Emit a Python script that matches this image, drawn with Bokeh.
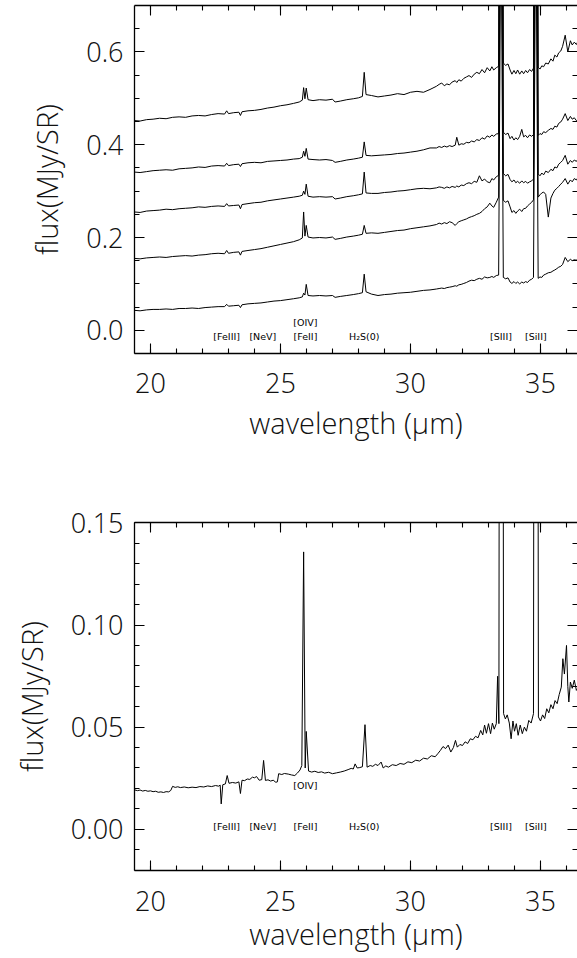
from bokeh.plotting import figure
from bokeh.models import (Range1d, LinearAxis, SingleIntervalTicker, PrintfTickFormatter,
                          CustomJSTickFormatter)
from bokeh.layouts import column
from bokeh.embed import file_html
from bokeh.resources import INLINE
from bokeh.core.properties import value

# ---------------- data ----------------
# common wavelength grid (micron) of the five spectra in the upper panel
wl_top = [19.38, 19.60, 19.85, 20.10, 20.35, 20.60, 20.85, 21.10, 21.35, 21.60,
          21.85, 22.10, 22.35, 22.60, 22.85, 22.93, 23.00, 23.20, 23.40, 23.46,
          23.52, 23.75, 24.00, 24.25, 24.50, 24.75, 25.00, 25.25, 25.50, 25.72,
          25.84, 25.89, 25.94, 25.99, 26.06, 26.25, 26.50, 26.75, 27.00, 27.10,
          27.30, 27.55, 27.80, 28.00, 28.15, 28.22, 28.29, 28.50, 28.75, 29.00,
          29.25, 29.50, 29.75, 30.00, 30.25, 30.50, 30.75,
          31.00, 31.10, 31.20, 31.30, 31.40, 31.50, 31.60, 31.72, 31.78, 31.86,
          31.95, 32.05, 32.15, 32.25, 32.35, 32.45, 32.55, 32.65, 32.75, 32.85,
          32.95, 33.05, 33.13, 33.20, 33.30, 33.39, 33.48, 33.57, 33.66, 33.75,
          33.83, 33.90, 33.98, 34.05, 34.12, 34.20, 34.28, 34.35, 34.43, 34.50,
          34.58, 34.66, 34.73, 34.82, 34.91, 34.98, 35.05, 35.12, 35.20, 35.30,
          35.40, 35.48, 35.55, 35.63, 35.70, 35.78, 35.85, 35.95, 36.05, 36.15,
          36.22, 36.30, 36.38, 36.45]

flux_s1 = [0.452, 0.451, 0.454, 0.455, 0.457, 0.456, 0.459, 0.460, 0.459, 0.462,
           0.463, 0.462, 0.465, 0.467, 0.466, 0.473, 0.467, 0.469, 0.470, 0.463,
           0.471, 0.473, 0.474, 0.476, 0.479, 0.481, 0.484, 0.486, 0.489, 0.492,
           0.496, 0.523, 0.499, 0.522, 0.497, 0.495, 0.497, 0.496, 0.498, 0.492,
           0.494, 0.497, 0.499, 0.501, 0.504, 0.556, 0.508, 0.506, 0.503, 0.505,
           0.507, 0.510, 0.508, 0.513, 0.515, 0.513, 0.519,
           0.526, 0.530, 0.533, 0.527, 0.531, 0.529, 0.535, 0.538, 0.534, 0.540,
           0.537, 0.543, 0.546, 0.549, 0.545, 0.552, 0.556, 0.553, 0.562, 0.555,
           0.566, 0.559, 0.568, 0.561, 0.566, 0.569, 3.000, 0.576, 0.571, 0.574,
           0.561, 0.552, 0.560, 0.553, 0.561, 0.552, 0.559, 0.553, 0.560, 0.555,
           0.562, 0.558, 0.565, 3.000, 0.567, 0.563, 0.570, 0.568, 0.576, 0.574,
           0.585, 0.580, 0.593, 0.589, 0.598, 0.602, 0.612, 0.636, 0.600, 0.624,
           0.615, 0.621, 0.616, 0.624]

flux_s2 = [0.341, 0.340, 0.342, 0.344, 0.345, 0.346, 0.345, 0.348, 0.349, 0.350,
           0.352, 0.351, 0.354, 0.355, 0.354, 0.360, 0.355, 0.357, 0.358, 0.353,
           0.359, 0.361, 0.362, 0.361, 0.364, 0.365, 0.366, 0.367, 0.369, 0.370,
           0.373, 0.386, 0.375, 0.392, 0.369, 0.368, 0.367, 0.368, 0.366, 0.362,
           0.364, 0.367, 0.369, 0.371, 0.373, 0.406, 0.377, 0.376, 0.377, 0.378,
           0.379, 0.381, 0.382, 0.384, 0.386, 0.389, 0.393,
           0.393, 0.396, 0.394, 0.397, 0.395, 0.398, 0.396, 0.399, 0.416, 0.399,
           0.402, 0.401, 0.405, 0.404, 0.408, 0.406, 0.411, 0.409, 0.415, 0.412,
           0.419, 0.416, 0.421, 0.418, 0.423, 0.424, 2.200, 0.427, 0.422, 0.425,
           0.413, 0.418, 0.410, 0.415, 0.411, 0.418, 0.433, 0.417, 0.420, 0.415,
           0.421, 0.418, 0.422, 2.200, 0.420, 0.424, 0.422, 0.428, 0.426, 0.431,
           0.435, 0.433, 0.440, 0.438, 0.446, 0.449, 0.455, 0.467, 0.452, 0.461,
           0.455, 0.458, 0.452, 0.455]

flux_s3 = [0.255, 0.254, 0.257, 0.258, 0.259, 0.261, 0.260, 0.262, 0.263, 0.264,
           0.266, 0.265, 0.267, 0.268, 0.267, 0.273, 0.268, 0.269, 0.270, 0.262,
           0.271, 0.273, 0.275, 0.276, 0.279, 0.281, 0.283, 0.285, 0.287, 0.289,
           0.291, 0.300, 0.293, 0.315, 0.289, 0.287, 0.288, 0.287, 0.288, 0.283,
           0.285, 0.288, 0.290, 0.292, 0.294, 0.341, 0.296, 0.295, 0.295, 0.297,
           0.298, 0.300, 0.301, 0.303, 0.305, 0.306, 0.305,
           0.307, 0.309, 0.308, 0.306, 0.309, 0.307, 0.310, 0.308, 0.311, 0.309,
           0.313, 0.312, 0.316, 0.318, 0.316, 0.321, 0.319, 0.333, 0.322, 0.326,
           0.320, 0.318, 0.327, 0.324, 0.331, 0.334, 1.600, 0.338, 0.333, 0.336,
           0.325, 0.320, 0.324, 0.318, 0.321, 0.317, 0.322, 0.318, 0.321, 0.317,
           0.320, 0.322, 0.326, 1.600, 0.337, 0.333, 0.339, 0.335, 0.343, 0.340,
           0.347, 0.344, 0.352, 0.350, 0.358, 0.362, 0.366, 0.377, 0.358, 0.366,
           0.362, 0.367, 0.364, 0.370]

flux_s4 = [0.155, 0.154, 0.156, 0.157, 0.158, 0.157, 0.159, 0.160, 0.161, 0.160,
           0.162, 0.163, 0.165, 0.166, 0.165, 0.172, 0.166, 0.168, 0.169, 0.162,
           0.170, 0.172, 0.174, 0.176, 0.179, 0.182, 0.185, 0.188, 0.191, 0.195,
           0.199, 0.255, 0.203, 0.226, 0.201, 0.199, 0.200, 0.199, 0.201, 0.196,
           0.198, 0.201, 0.203, 0.205, 0.207, 0.226, 0.209, 0.210, 0.209, 0.211,
           0.213, 0.215, 0.216, 0.219, 0.221, 0.223, 0.225,
           0.228, 0.231, 0.229, 0.232, 0.230, 0.234, 0.232, 0.226, 0.230, 0.234,
           0.236, 0.238, 0.240, 0.243, 0.245, 0.247, 0.250, 0.252, 0.256, 0.262,
           0.266, 0.274, 0.268, 0.265, 0.276, 0.287, 1.200, 0.280, 0.276, 0.279,
           0.266, 0.254, 0.258, 0.252, 0.257, 0.261, 0.256, 0.262, 0.263, 0.268,
           0.272, 0.276, 0.281, 1.200, 0.287, 0.292, 0.296, 0.298, 0.293, 0.244,
           0.285, 0.295, 0.302, 0.306, 0.310, 0.315, 0.319, 0.327, 0.315, 0.324,
           0.320, 0.327, 0.324, 0.330]

flux_s5 = [0.043, 0.042, 0.044, 0.045, 0.045, 0.046, 0.045, 0.047, 0.047, 0.048,
           0.047, 0.049, 0.050, 0.051, 0.051, 0.056, 0.052, 0.053, 0.054, 0.049,
           0.055, 0.057, 0.058, 0.059, 0.061, 0.063, 0.064, 0.066, 0.068, 0.070,
           0.072, 0.080, 0.076, 0.099, 0.075, 0.074, 0.075, 0.074, 0.075, 0.071,
           0.073, 0.075, 0.077, 0.079, 0.081, 0.121, 0.083, 0.078, 0.075, 0.077,
           0.078, 0.080, 0.081, 0.082, 0.084, 0.086, 0.087,
           0.089, 0.090, 0.091, 0.090, 0.092, 0.093, 0.094, 0.096, 0.095, 0.098,
           0.099, 0.101, 0.103, 0.106, 0.108, 0.107, 0.110, 0.112, 0.110, 0.115,
           0.113, 0.114, 0.116, 0.114, 0.118, 0.119, 0.950, 0.114, 0.111, 0.113,
           0.104, 0.101, 0.105, 0.101, 0.104, 0.100, 0.104, 0.102, 0.105, 0.103,
           0.108, 0.110, 0.114, 0.950, 0.112, 0.115, 0.114, 0.119, 0.121, 0.124,
           0.125, 0.128, 0.130, 0.133, 0.136, 0.138, 0.142, 0.157, 0.148, 0.153,
           0.150, 0.152, 0.151, 0.155]

# spectrum of the lower panel
wl_bot = [19.38, 19.50, 19.60, 19.70, 19.80, 19.90, 20.00, 20.10, 20.20, 20.30,
          20.40, 20.50, 20.60, 20.70, 20.78, 20.85, 20.95, 21.05, 21.15, 21.30,
          21.45, 21.60, 21.75, 21.90, 22.05, 22.20, 22.35, 22.50, 22.62, 22.68,
          22.72, 22.78, 22.88, 22.95, 23.02, 23.15, 23.28, 23.40, 23.46, 23.52,
          23.62, 23.72, 23.82, 23.92, 24.00, 24.08, 24.18, 24.28, 24.35, 24.42,
          24.52, 24.62, 24.72, 24.82, 24.88, 24.93, 25.05, 25.15, 25.30, 25.42,
          25.55, 25.65, 25.75, 25.82, 25.89, 25.95, 25.99, 26.08, 26.20, 26.32,
          26.45, 26.58, 26.70, 26.85, 27.00, 27.15, 27.30, 27.45, 27.60, 27.72,
          27.80, 27.87, 27.95, 28.05, 28.15, 28.25, 28.33, 28.45, 28.55, 28.65,
          28.75, 28.87, 28.95, 29.05, 29.15, 29.30, 29.45, 29.60, 29.75, 29.90,
          30.05, 30.20, 30.35, 30.50, 30.65, 30.80, 30.95, 31.05, 31.15, 31.25,
          31.35, 31.45, 31.55, 31.65, 31.73, 31.80, 31.90, 32.00, 32.10, 32.20,
          32.30, 32.40, 32.50, 32.60, 32.70, 32.78, 32.85, 32.92, 33.00, 33.08,
          33.15, 33.22, 33.30, 33.35, 33.40, 33.48, 33.58, 33.65, 33.72, 33.80,
          33.87, 33.94, 34.00, 34.07, 34.14, 34.22, 34.30, 34.38, 34.46, 34.55,
          34.64, 34.73, 34.82, 34.92, 35.00, 35.08, 35.16, 35.24, 35.32, 35.40,
          35.48, 35.56, 35.64, 35.72, 35.80, 35.86, 35.92, 36.00, 36.05, 36.09,
          36.15, 36.22, 36.30, 36.38, 36.45]

flux_bot = [0.0193, 0.0189, 0.0192, 0.0187, 0.0190, 0.0186, 0.0188, 0.0184, 0.0186, 0.0181,
            0.0183, 0.0180, 0.0184, 0.0183, 0.0190, 0.0210, 0.0205, 0.0208, 0.0204, 0.0207,
            0.0203, 0.0206, 0.0204, 0.0209, 0.0207, 0.0212, 0.0209, 0.0214, 0.0211, 0.0216,
            0.0124, 0.0218, 0.0222, 0.0263, 0.0225, 0.0229, 0.0226, 0.0232, 0.0175, 0.0240,
            0.0238, 0.0246, 0.0244, 0.0255, 0.0252, 0.0258, 0.0240, 0.0243, 0.0337, 0.0239,
            0.0242, 0.0236, 0.0240, 0.0230, 0.0232, 0.0272, 0.0268, 0.0273, 0.0270, 0.0266,
            0.0263, 0.0275, 0.0290, 0.0312, 0.1358, 0.0300, 0.0479, 0.0285, 0.0280, 0.0284,
            0.0278, 0.0281, 0.0275, 0.0279, 0.0272, 0.0276, 0.0280, 0.0285, 0.0292, 0.0298,
            0.0295, 0.0320, 0.0300, 0.0302, 0.0306, 0.0512, 0.0304, 0.0312, 0.0308, 0.0318,
            0.0312, 0.0329, 0.0300, 0.0310, 0.0304, 0.0316, 0.0312, 0.0322, 0.0318, 0.0330,
            0.0326, 0.0338, 0.0334, 0.0348, 0.0344, 0.0360, 0.0355, 0.0370, 0.0386, 0.0405,
            0.0395, 0.0412, 0.0378, 0.0400, 0.0435, 0.0402, 0.0415, 0.0410, 0.0428, 0.0420,
            0.0443, 0.0438, 0.0455, 0.0448, 0.0484, 0.0462, 0.0510, 0.0470, 0.0517, 0.0468,
            0.0520, 0.0490, 0.0517, 0.0749, 0.0517, 1.0000, 0.0566, 0.0540, 0.0560, 0.0520,
            0.0443, 0.0530, 0.0480, 0.0517, 0.0460, 0.0510, 0.0468, 0.0500, 0.0480, 0.0533,
            0.0520, 0.0566, 1.0000, 0.0550, 0.0530, 0.0560, 0.0542, 0.0590, 0.0570, 0.0610,
            0.0590, 0.0630, 0.0615, 0.0660, 0.0696, 0.0835, 0.0760, 0.0900, 0.0700, 0.0623,
            0.0721, 0.0690, 0.0730, 0.0680, 0.0696]

# line identifications
line_names = ["[FeIII]", "[NeV]", "[FeII]", "H\u2082S(0)", "[SIII]", "[SiII]"]
line_wl = [22.93, 24.32, 25.96, 28.22, 33.48, 34.82]
upper_name = ["[OIV]"]
upper_wl = [25.96]

x_label = "wavelength (\u03bcm)"
y_label = "flux(MJy/SR)"

for _f in (flux_s1, flux_s2, flux_s3, flux_s4, flux_s5):
    assert len(_f) == len(wl_top), (len(_f), len(wl_top))
assert len(flux_bot) == len(wl_bot), (len(flux_bot), len(wl_bot))

FONT = "Open Sans Light, Lato Light"
SMALL_FONT = "DejaVu Sans"
INK = "#000000"
BLANK = CustomJSTickFormatter(code="return ''")


def style_axis(ax, show_labels=True, standoff=10, line=True):
    ax.axis_line_color = INK if line else None
    ax.axis_line_width = 1.3
    ax.major_tick_line_color = INK
    ax.minor_tick_line_color = INK
    ax.major_tick_line_width = 1.1
    ax.minor_tick_line_width = 1.1
    ax.major_tick_in = 10
    ax.major_tick_out = 0
    ax.minor_tick_in = 5
    ax.minor_tick_out = 0
    ax.major_label_text_font = FONT
    ax.major_label_text_color = "#111111"
    if show_labels:
        ax.major_label_text_font_size = "27px"
        ax.major_label_standoff = standoff
    else:
        ax.formatter = BLANK
        ax.major_label_text_font_size = "1px"
        ax.major_label_standoff = 0
    ax.axis_label_text_font = FONT
    ax.axis_label_text_font_size = "29px"
    ax.axis_label_text_font_style = "normal"
    ax.axis_label_text_color = "#111111"


def panel(height, b_top, b_bottom, y0, y1, yint, yminor, yfmt, xl_standoff, xlab_standoff,
          yl_standoff):
    p = figure(width=577, height=height, output_backend="svg", toolbar_location=None,
               x_range=Range1d(19.385, 36.423), y_range=Range1d(y0, y1),
               x_axis_type=None, y_axis_type=None,
               min_border_left=134, min_border_right=0,
               min_border_top=b_top, min_border_bottom=b_bottom)
    p.outline_line_color = None
    p.background_fill_color = "white"
    p.border_fill_color = "white"

    xt = SingleIntervalTicker(interval=5, num_minor_ticks=5)
    yt = SingleIntervalTicker(interval=yint, num_minor_ticks=yminor)

    bx = LinearAxis(ticker=xt, axis_label=x_label)
    style_axis(bx, True, standoff=xl_standoff)
    bx.axis_label_standoff = xlab_standoff
    p.add_layout(bx, "below")

    tx = LinearAxis(ticker=xt)
    style_axis(tx, False)
    p.add_layout(tx, "above")

    ly = LinearAxis(ticker=yt, axis_label=y_label,
                    formatter=PrintfTickFormatter(format=yfmt))
    style_axis(ly, True, standoff=11)
    ly.axis_label_standoff = yl_standoff
    p.add_layout(ly, "left")

    ry = LinearAxis(ticker=yt)
    style_axis(ry, False, line=False)
    p.add_layout(ry, "right")
    return p


def add_ids(p, y_low, y_high):
    p.text(x=line_wl, y=[y_low] * len(line_wl), text=line_names,
           text_font=value(SMALL_FONT), text_font_size="9.5px",
           text_align="center", text_baseline="middle", text_color=INK)
    p.text(x=upper_wl, y=[y_high] * len(upper_wl), text=upper_name,
           text_font=value(SMALL_FONT), text_font_size="9.5px",
           text_align="center", text_baseline="middle", text_color=INK)


# ---------------- upper panel ----------------
p1 = panel(460, 5, 107, -0.05, 0.70, 0.2, 4, "%.1f", 19, 7, 17)
for f in (flux_s1, flux_s2, flux_s3, flux_s4, flux_s5):
    p1.line(wl_top, f, line_color=INK, line_width=1)
add_ids(p1, -0.0144, 0.017)

# ---------------- lower panel ----------------
p2 = panel(498, 62, 88, -0.0202, 0.1502, 0.05, 5, "%.2f", 20, 0, 17)
p2.line(wl_bot, flux_bot, line_color=INK, line_width=1)
add_ids(p2, 0.0013, 0.0214)

layout = column(p1, p2, spacing=0)
open("out.html", "w").write(file_html(layout, INLINE))
